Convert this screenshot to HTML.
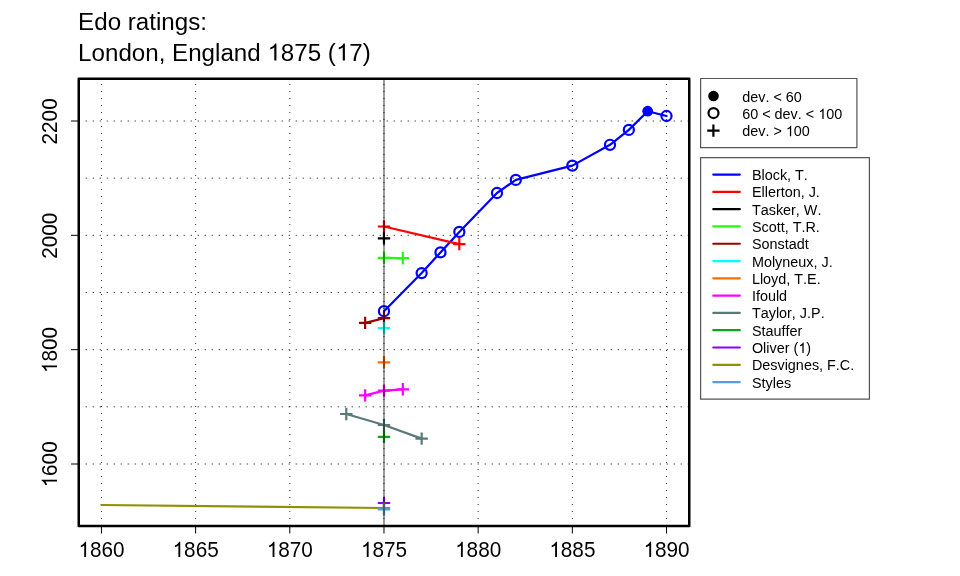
<!DOCTYPE html>
<html><head><meta charset="utf-8"><style>
html,body{margin:0;padding:0;background:#fff;}
svg{display:block;font-family:"Liberation Sans",sans-serif;will-change:transform;font-kerning:none;font-feature-settings:"kern" 0;}
</style></head><body>
<svg width="960" height="576" viewBox="0 0 960 576">
<g stroke="#000" stroke-width="0.8" stroke-dasharray="1 6" fill="none"><line x1="101.45" y1="526" x2="101.45" y2="79"/><line x1="195.62" y1="526" x2="195.62" y2="79"/><line x1="289.80" y1="526" x2="289.80" y2="79"/><line x1="383.98" y1="526" x2="383.98" y2="79"/><line x1="478.15" y1="526" x2="478.15" y2="79"/><line x1="572.33" y1="526" x2="572.33" y2="79"/><line x1="666.50" y1="526" x2="666.50" y2="79"/></g>
<g stroke="#000" stroke-width="0.7" stroke-dasharray="1.4 5.6" fill="none"><line x1="78.6" y1="464.00" x2="689" y2="464.00"/><line x1="78.6" y1="406.83" x2="689" y2="406.83"/><line x1="78.6" y1="349.67" x2="689" y2="349.67"/><line x1="78.6" y1="292.50" x2="689" y2="292.50"/><line x1="78.6" y1="235.33" x2="689" y2="235.33"/><line x1="78.6" y1="178.17" x2="689" y2="178.17"/><line x1="78.6" y1="121.00" x2="689" y2="121.00"/></g>
<polyline points="383.98,311.20 421.64,273.10 440.48,252.40 459.31,231.90 496.99,193.00 515.82,179.90 572.33,165.60 610.00,144.80 628.83,129.90 647.67,111.20 666.50,116.00" fill="none" stroke="#0000ff" stroke-width="2.2" stroke-linejoin="round" stroke-linecap="round"/>
<circle cx="383.98" cy="311.20" r="5.05" fill="none" stroke="#0000ff" stroke-width="2.2"/>
<circle cx="421.64" cy="273.10" r="5.05" fill="none" stroke="#0000ff" stroke-width="2.2"/>
<circle cx="440.48" cy="252.40" r="5.05" fill="none" stroke="#0000ff" stroke-width="2.2"/>
<circle cx="459.31" cy="231.90" r="5.05" fill="none" stroke="#0000ff" stroke-width="2.2"/>
<circle cx="496.99" cy="193.00" r="5.05" fill="none" stroke="#0000ff" stroke-width="2.2"/>
<circle cx="515.82" cy="179.90" r="5.05" fill="none" stroke="#0000ff" stroke-width="2.2"/>
<circle cx="572.33" cy="165.60" r="5.05" fill="none" stroke="#0000ff" stroke-width="2.2"/>
<circle cx="610.00" cy="144.80" r="5.05" fill="none" stroke="#0000ff" stroke-width="2.2"/>
<circle cx="628.83" cy="129.90" r="5.05" fill="none" stroke="#0000ff" stroke-width="2.2"/>
<circle cx="647.67" cy="111.20" r="5.4" fill="#0000ff"/>
<circle cx="666.50" cy="116.00" r="5.05" fill="none" stroke="#0000ff" stroke-width="2.2"/>
<polyline points="383.98,226.50 459.31,244.10" fill="none" stroke="#ff0000" stroke-width="2.2" stroke-linejoin="round" stroke-linecap="round"/>
<path d="M377.78,226.50H390.18M383.98,220.30V232.70" stroke="#ff0000" stroke-width="2.2" fill="none"/>
<path d="M453.12,244.10H465.51M459.31,237.90V250.30" stroke="#ff0000" stroke-width="2.2" fill="none"/>
<path d="M377.78,238.40H390.18M383.98,232.20V244.60" stroke="#000000" stroke-width="2.2" fill="none"/>
<polyline points="383.98,257.80 402.81,258.20" fill="none" stroke="#22ff0e" stroke-width="2.2" stroke-linejoin="round" stroke-linecap="round"/>
<path d="M377.78,257.80H390.18M383.98,251.60V264.00" stroke="#22ff0e" stroke-width="2.2" fill="none"/>
<path d="M396.61,258.20H409.01M402.81,252.00V264.40" stroke="#22ff0e" stroke-width="2.2" fill="none"/>
<polyline points="365.14,322.90 383.98,318.20" fill="none" stroke="#990000" stroke-width="2.2" stroke-linejoin="round" stroke-linecap="round"/>
<path d="M358.94,322.90H371.34M365.14,316.70V329.10" stroke="#990000" stroke-width="2.2" fill="none"/>
<path d="M377.78,318.20H390.18M383.98,312.00V324.40" stroke="#990000" stroke-width="2.2" fill="none"/>
<path d="M377.78,328.10H390.18M383.98,321.90V334.30" stroke="#00ffff" stroke-width="2.2" fill="none"/>
<path d="M377.78,362.30H390.18M383.98,356.10V368.50" stroke="#fd6c02" stroke-width="2.2" fill="none"/>
<polyline points="365.14,395.40 383.98,390.60 402.81,389.30" fill="none" stroke="#ff00ff" stroke-width="2.2" stroke-linejoin="round" stroke-linecap="round"/>
<path d="M358.94,395.40H371.34M365.14,389.20V401.60" stroke="#ff00ff" stroke-width="2.2" fill="none"/>
<path d="M377.78,390.60H390.18M383.98,384.40V396.80" stroke="#ff00ff" stroke-width="2.2" fill="none"/>
<path d="M396.61,389.30H409.01M402.81,383.10V395.50" stroke="#ff00ff" stroke-width="2.2" fill="none"/>
<polyline points="346.31,414.00 383.98,425.00 421.64,438.60" fill="none" stroke="#5a7a7a" stroke-width="2.2" stroke-linejoin="round" stroke-linecap="round"/>
<path d="M340.11,414.00H352.50M346.31,407.80V420.20" stroke="#5a7a7a" stroke-width="2.2" fill="none"/>
<path d="M377.78,425.00H390.18M383.98,418.80V431.20" stroke="#5a7a7a" stroke-width="2.2" fill="none"/>
<path d="M415.44,438.60H427.84M421.64,432.40V444.80" stroke="#5a7a7a" stroke-width="2.2" fill="none"/>
<path d="M377.78,436.80H390.18M383.98,430.60V443.00" stroke="#10a518" stroke-width="2.2" fill="none"/>
<path d="M377.78,503.00H390.18M383.98,496.80V509.20" stroke="#8800ff" stroke-width="2.2" fill="none"/>
<polyline points="101.45,505.00 383.98,508.00" fill="none" stroke="#8e9200" stroke-width="2.2" stroke-linejoin="round" stroke-linecap="round"/>
<path d="M377.78,508.00H390.18M383.98,501.80V514.20" stroke="#8e9200" stroke-width="2.2" fill="none"/>
<path d="M377.78,509.40H390.18M383.98,503.20V515.60" stroke="#509ee6" stroke-width="2.2" fill="none"/>
<line x1="383.98" y1="79" x2="383.98" y2="526" stroke="rgba(0,0,0,0.4)" stroke-width="2"/>
<rect x="78.75" y="78.75" width="610.5" height="447.2" fill="none" stroke="#000" stroke-width="2.5" stroke-linejoin="round"/>
<g stroke="#000" stroke-width="1"><line x1="101.45" y1="526" x2="101.45" y2="533.5"/><line x1="195.62" y1="526" x2="195.62" y2="533.5"/><line x1="289.80" y1="526" x2="289.80" y2="533.5"/><line x1="383.98" y1="526" x2="383.98" y2="533.5"/><line x1="478.15" y1="526" x2="478.15" y2="533.5"/><line x1="572.33" y1="526" x2="572.33" y2="533.5"/><line x1="666.50" y1="526" x2="666.50" y2="533.5"/><line x1="71" y1="464.00" x2="79" y2="464.00"/><line x1="71" y1="349.67" x2="79" y2="349.67"/><line x1="71" y1="235.33" x2="79" y2="235.33"/><line x1="71" y1="121.00" x2="79" y2="121.00"/></g>
<g fill="#000"><g transform="translate(101.45,557.00) scale(1,1.045)"><text x="-23.08" font-size="20.75">&#x2007;860</text><path transform="translate(-23.08,0) scale(0.02075,-0.02075)" d="M372,0L372,709L320,709C290,640 230,580 117,534L117,455C190,475 245,500 283,534L283,0Z"/></g><g transform="translate(195.62,557.00) scale(1,1.045)"><text x="-23.08" font-size="20.75">&#x2007;865</text><path transform="translate(-23.08,0) scale(0.02075,-0.02075)" d="M372,0L372,709L320,709C290,640 230,580 117,534L117,455C190,475 245,500 283,534L283,0Z"/></g><g transform="translate(289.80,557.00) scale(1,1.045)"><text x="-23.08" font-size="20.75">&#x2007;870</text><path transform="translate(-23.08,0) scale(0.02075,-0.02075)" d="M372,0L372,709L320,709C290,640 230,580 117,534L117,455C190,475 245,500 283,534L283,0Z"/></g><g transform="translate(383.98,557.00) scale(1,1.045)"><text x="-23.08" font-size="20.75">&#x2007;875</text><path transform="translate(-23.08,0) scale(0.02075,-0.02075)" d="M372,0L372,709L320,709C290,640 230,580 117,534L117,455C190,475 245,500 283,534L283,0Z"/></g><g transform="translate(478.15,557.00) scale(1,1.045)"><text x="-23.08" font-size="20.75">&#x2007;880</text><path transform="translate(-23.08,0) scale(0.02075,-0.02075)" d="M372,0L372,709L320,709C290,640 230,580 117,534L117,455C190,475 245,500 283,534L283,0Z"/></g><g transform="translate(572.33,557.00) scale(1,1.045)"><text x="-23.08" font-size="20.75">&#x2007;885</text><path transform="translate(-23.08,0) scale(0.02075,-0.02075)" d="M372,0L372,709L320,709C290,640 230,580 117,534L117,455C190,475 245,500 283,534L283,0Z"/></g><g transform="translate(666.50,557.00) scale(1,1.045)"><text x="-23.08" font-size="20.75">&#x2007;890</text><path transform="translate(-23.08,0) scale(0.02075,-0.02075)" d="M372,0L372,709L320,709C290,640 230,580 117,534L117,455C190,475 245,500 283,534L283,0Z"/></g><g transform="translate(57.00,464.40) rotate(-90) scale(1,1.045)"><text x="-23.08" font-size="20.75">&#x2007;600</text><path transform="translate(-23.08,0) scale(0.02075,-0.02075)" d="M372,0L372,709L320,709C290,640 230,580 117,534L117,455C190,475 245,500 283,534L283,0Z"/></g><g transform="translate(57.00,350.07) rotate(-90) scale(1,1.045)"><text x="-23.08" font-size="20.75">&#x2007;800</text><path transform="translate(-23.08,0) scale(0.02075,-0.02075)" d="M372,0L372,709L320,709C290,640 230,580 117,534L117,455C190,475 245,500 283,534L283,0Z"/></g><g transform="translate(57.00,235.73) rotate(-90) scale(1,1.045)"><text x="-23.08" font-size="20.75">2000</text></g><g transform="translate(57.00,121.40) rotate(-90) scale(1,1.045)"><text x="-23.08" font-size="20.75">2200</text></g></g>
<g transform="translate(78.10,30.00)"><text x="0.00" font-size="24.15">Edo ratings:</text></g>
<g transform="translate(78.10,60.50)"><text x="0.00" font-size="24.15">London, England &#x2007;875 (&#x2007;7)</text><path transform="translate(189.34,0) scale(0.02415,-0.02415)" d="M372,0L372,709L320,709C290,640 230,580 117,534L117,455C190,475 245,500 283,534L283,0Z"/><path transform="translate(257.82,0) scale(0.02415,-0.02415)" d="M372,0L372,709L320,709C290,640 230,580 117,534L117,455C190,475 245,500 283,534L283,0Z"/></g>
<rect x="700.6" y="78.5" width="156.3" height="69.2" fill="#fff" stroke="#555" stroke-width="1.2" stroke-linejoin="round"/>
<circle cx="713.5" cy="96.0" r="5.3" fill="#000"/>
<circle cx="713.5" cy="113.05" r="5.0" fill="none" stroke="#000" stroke-width="2.2"/>
<path d="M707.2,130.6H719.6M713.4,124.4V136.8" stroke="#000" stroke-width="2.2"/>
<g font-size="14.4">
<g transform="translate(742.20,101.50) scale(1,1.02)"><text x="0.00" font-size="14.4">dev. &lt; 60</text></g>
<g transform="translate(742.20,118.90) scale(1,1.02)"><text x="0.00" font-size="14.4">60 &lt; dev. &lt; &#x2007;00</text><path transform="translate(76.06,0) scale(0.01440,-0.01440)" d="M372,0L372,709L320,709C290,640 230,580 117,534L117,455C190,475 245,500 283,534L283,0Z"/></g>
<g transform="translate(742.20,136.20) scale(1,1.02)"><text x="0.00" font-size="14.4">dev. &gt; &#x2007;00</text><path transform="translate(43.63,0) scale(0.01440,-0.01440)" d="M372,0L372,709L320,709C290,640 230,580 117,534L117,455C190,475 245,500 283,534L283,0Z"/></g>
</g>
<rect x="700.6" y="157.6" width="168.8" height="241.6" fill="#fff" stroke="#555" stroke-width="1.2" stroke-linejoin="round"/>
<g font-size="14.4">
<line x1="713.3" y1="174.60" x2="739.8" y2="174.60" stroke="#0000ff" stroke-width="2.2" stroke-linecap="round"/>
<g transform="translate(751.90,180.10) scale(1,1.02)"><text x="0.00" font-size="14.4">Block, T.</text></g>
<line x1="713.3" y1="191.89" x2="739.8" y2="191.89" stroke="#ff0000" stroke-width="2.2" stroke-linecap="round"/>
<g transform="translate(751.90,197.39) scale(1,1.02)"><text x="0.00" font-size="14.4">Ellerton, J.</text></g>
<line x1="713.3" y1="209.18" x2="739.8" y2="209.18" stroke="#000000" stroke-width="2.2" stroke-linecap="round"/>
<g transform="translate(751.90,214.68) scale(1,1.02)"><text x="0.00" font-size="14.4">Tasker, W.</text></g>
<line x1="713.3" y1="226.47" x2="739.8" y2="226.47" stroke="#22ff0e" stroke-width="2.2" stroke-linecap="round"/>
<g transform="translate(751.90,231.97) scale(1,1.02)"><text x="0.00" font-size="14.4">Scott, T.R.</text></g>
<line x1="713.3" y1="243.76" x2="739.8" y2="243.76" stroke="#990000" stroke-width="2.2" stroke-linecap="round"/>
<g transform="translate(751.90,249.26) scale(1,1.02)"><text x="0.00" font-size="14.4">Sonstadt</text></g>
<line x1="713.3" y1="261.05" x2="739.8" y2="261.05" stroke="#00ffff" stroke-width="2.2" stroke-linecap="round"/>
<g transform="translate(751.90,266.55) scale(1,1.02)"><text x="0.00" font-size="14.4">Molyneux, J.</text></g>
<line x1="713.3" y1="278.34" x2="739.8" y2="278.34" stroke="#fd6c02" stroke-width="2.2" stroke-linecap="round"/>
<g transform="translate(751.90,283.84) scale(1,1.02)"><text x="0.00" font-size="14.4">Lloyd, T.E.</text></g>
<line x1="713.3" y1="295.63" x2="739.8" y2="295.63" stroke="#ff00ff" stroke-width="2.2" stroke-linecap="round"/>
<g transform="translate(751.90,301.13) scale(1,1.02)"><text x="0.00" font-size="14.4">Ifould</text></g>
<line x1="713.3" y1="312.92" x2="739.8" y2="312.92" stroke="#5a7a7a" stroke-width="2.2" stroke-linecap="round"/>
<g transform="translate(751.90,318.42) scale(1,1.02)"><text x="0.00" font-size="14.4">Taylor, J.P.</text></g>
<line x1="713.3" y1="330.21" x2="739.8" y2="330.21" stroke="#10a518" stroke-width="2.2" stroke-linecap="round"/>
<g transform="translate(751.90,335.71) scale(1,1.02)"><text x="0.00" font-size="14.4">Stauffer</text></g>
<line x1="713.3" y1="347.50" x2="739.8" y2="347.50" stroke="#8800ff" stroke-width="2.2" stroke-linecap="round"/>
<g transform="translate(751.90,353.00) scale(1,1.02)"><text x="0.00" font-size="14.4">Oliver (&#x2007;)</text><path transform="translate(46.40,0) scale(0.01440,-0.01440)" d="M372,0L372,709L320,709C290,640 230,580 117,534L117,455C190,475 245,500 283,534L283,0Z"/></g>
<line x1="713.3" y1="364.79" x2="739.8" y2="364.79" stroke="#8e9200" stroke-width="2.2" stroke-linecap="round"/>
<g transform="translate(751.90,370.29) scale(1,1.02)"><text x="0.00" font-size="14.4">Desvignes, F.C.</text></g>
<line x1="713.3" y1="382.08" x2="739.8" y2="382.08" stroke="#509ee6" stroke-width="2.2" stroke-linecap="round"/>
<g transform="translate(751.90,387.58) scale(1,1.02)"><text x="0.00" font-size="14.4">Styles</text></g>
</g>
</svg>
</body></html>
